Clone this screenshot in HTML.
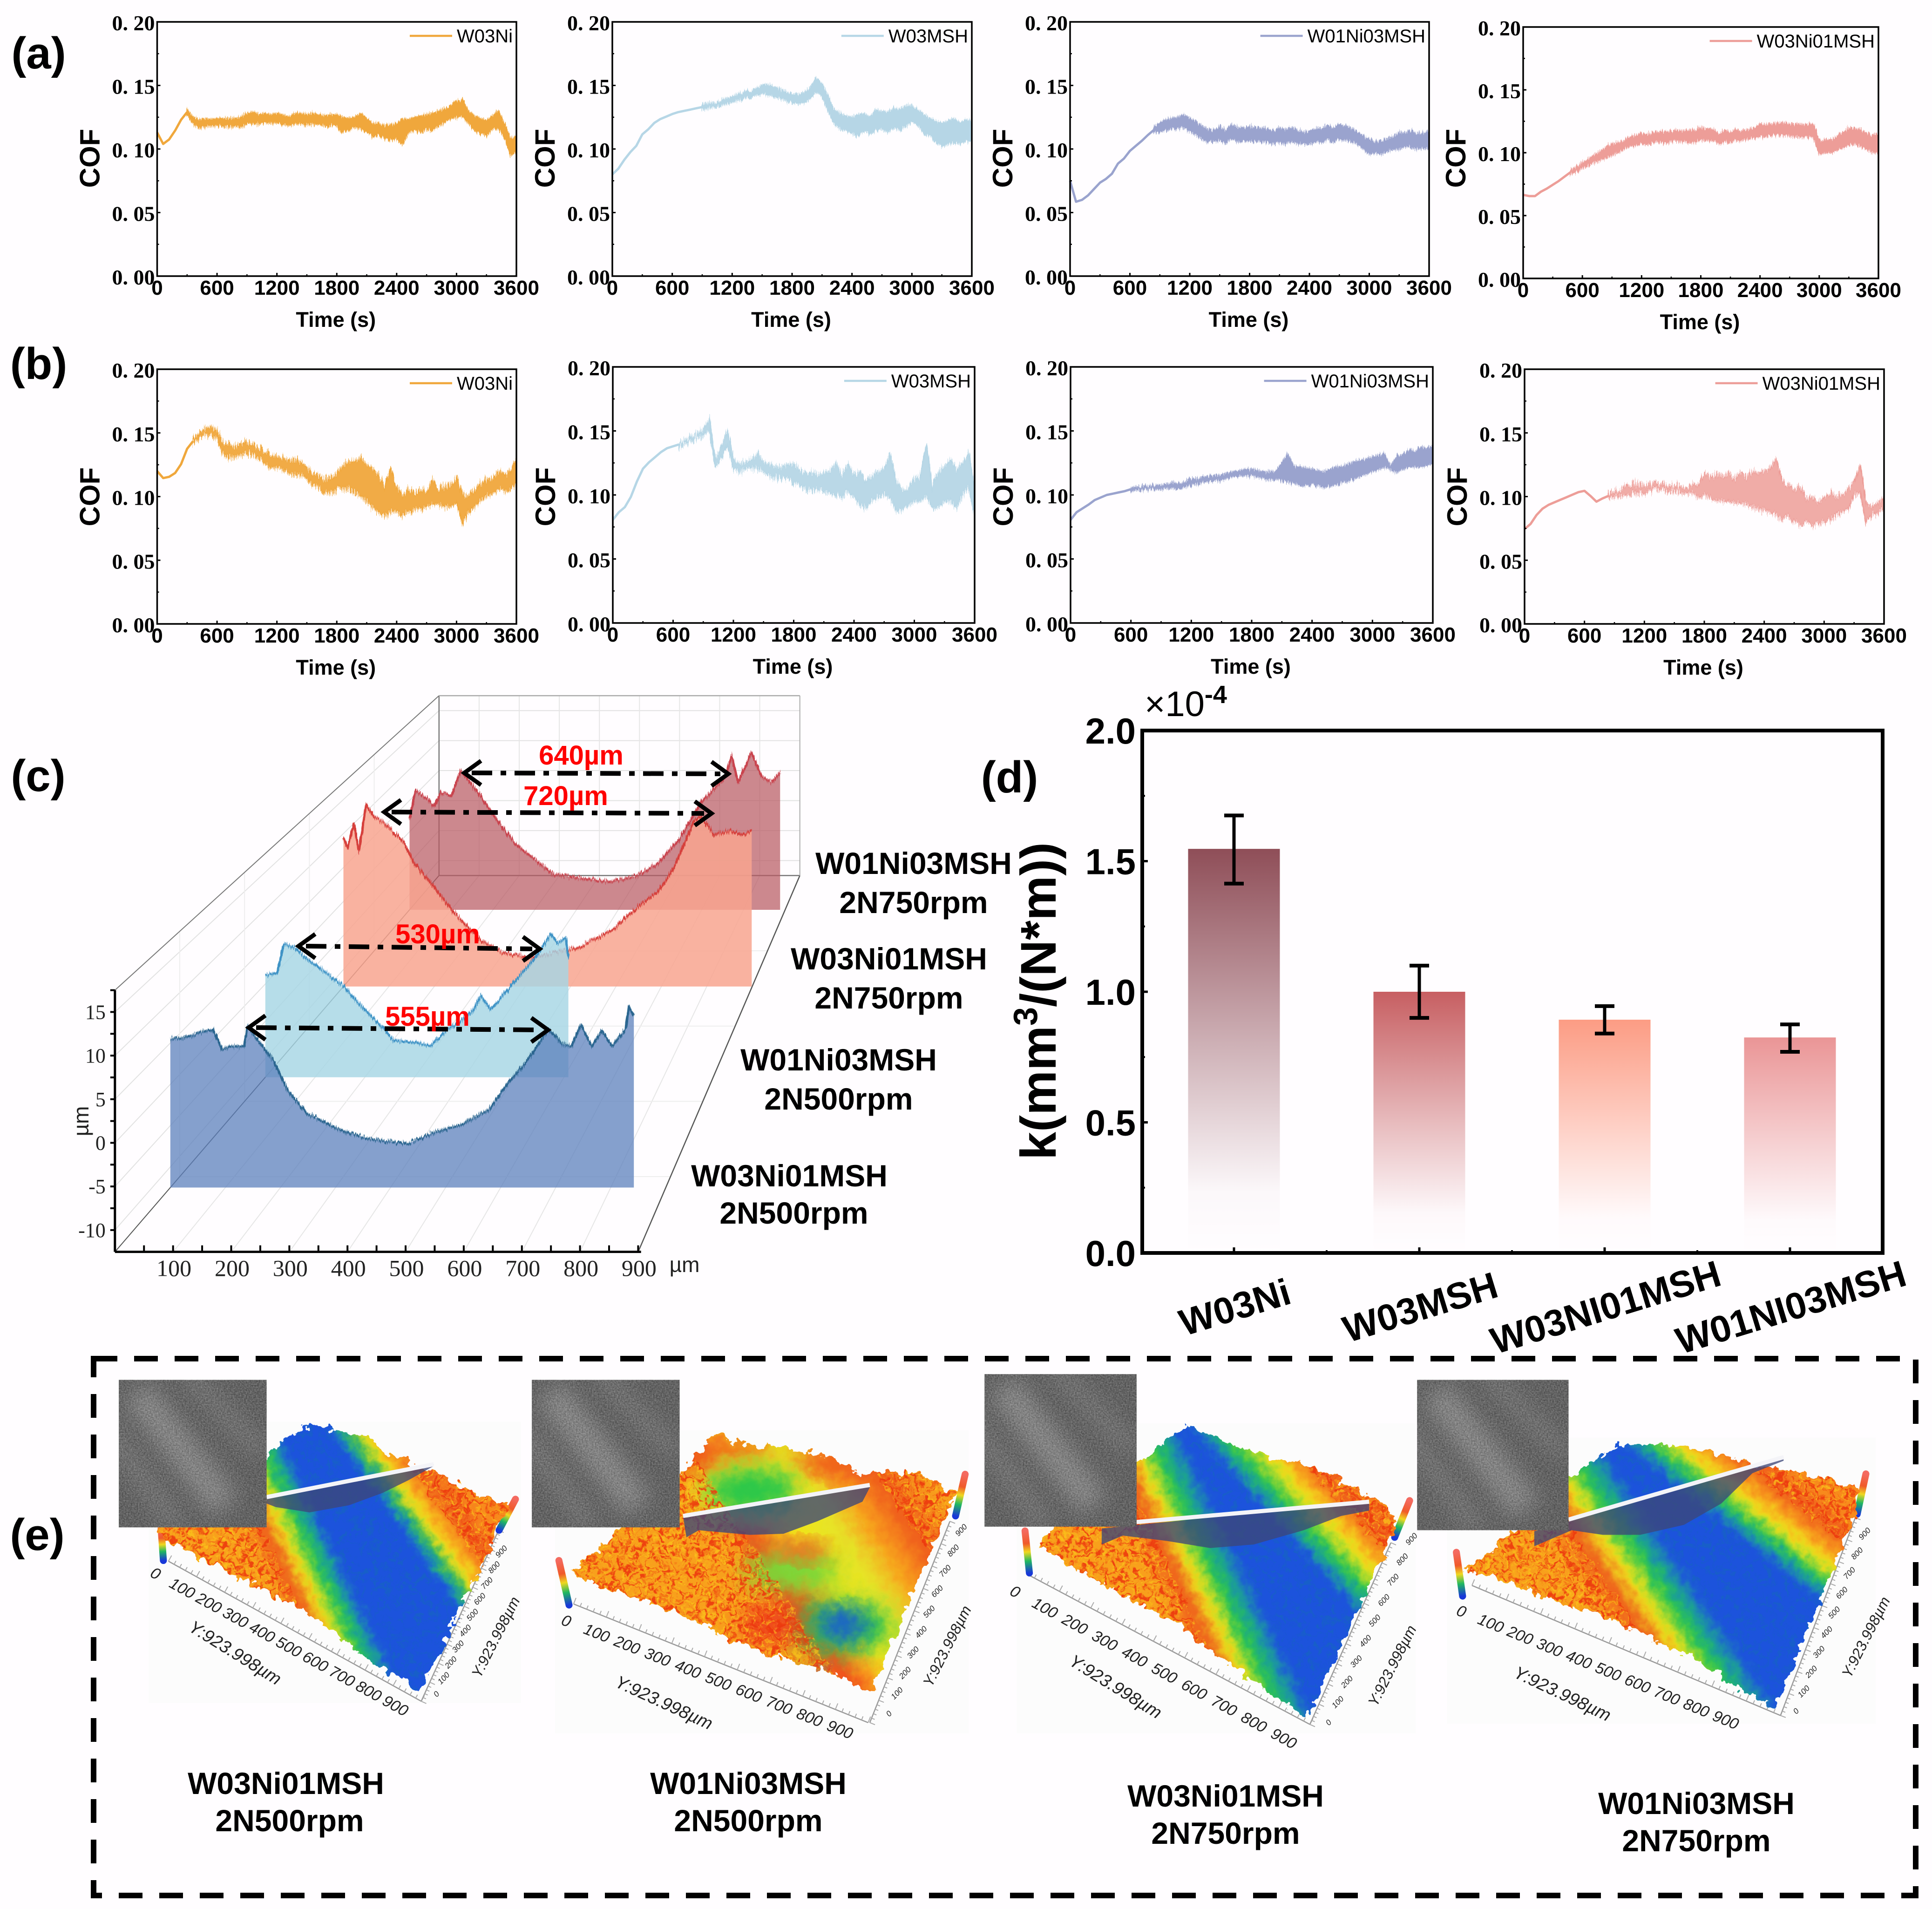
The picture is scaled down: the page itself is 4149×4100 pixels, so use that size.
<!DOCTYPE html>
<html lang="en">
<head>
<meta charset="utf-8">
<title>Friction, wear profile, wear rate and wear surfaces</title>
<style>
html,body{margin:0;padding:0;background:#fffdff;}
svg{display:block;}
text{font-family:"Liberation Sans",sans-serif;}
.big{font-family:"Liberation Sans",sans-serif;font-weight:700;font-size:66px;text-anchor:middle;fill:#000;}
.letter{font-family:"Liberation Sans",sans-serif;font-weight:700;font-size:96px;text-anchor:middle;fill:#000;}
.width{font-family:"Liberation Sans",sans-serif;font-weight:700;font-size:58px;text-anchor:middle;fill:#f00;}
</style>
</head>
<body>
<svg id="fig" xmlns="http://www.w3.org/2000/svg" width="4149" height="4100" viewBox="0 0 4149 4100">
<defs>
  <filter id="soft" x="-10%" y="-10%" width="120%" height="120%"><feGaussianBlur stdDeviation="7"/></filter>
  <filter id="softer" x="-40%" y="-40%" width="180%" height="180%"><feGaussianBlur stdDeviation="22"/></filter>
  <filter id="jagA" x="-2%" y="-80%" width="104%" height="260%" color-interpolation-filters="sRGB">
    <feTurbulence type="fractalNoise" baseFrequency="0.6 0.012" numOctaves="2" seed="5" result="n"/>
    <feColorMatrix in="n" type="matrix" values="0 0 0 0 0.5  1 0 0 0 0  0 0 0 0 0.5  0 0 0 0 1" result="m"/>
    <feDisplacementMap in="SourceGraphic" in2="m" scale="20" xChannelSelector="R" yChannelSelector="G"/>
  </filter>
  <filter id="jagB" x="-2%" y="-80%" width="104%" height="260%" color-interpolation-filters="sRGB">
    <feTurbulence type="fractalNoise" baseFrequency="0.6 0.012" numOctaves="2" seed="11" result="n"/>
    <feColorMatrix in="n" type="matrix" values="0 0 0 0 0.5  1 0 0 0 0  0 0 0 0 0.5  0 0 0 0 1" result="m"/>
    <feDisplacementMap in="SourceGraphic" in2="m" scale="36" xChannelSelector="R" yChannelSelector="G"/>
  </filter>
  <filter id="rough" x="-8%" y="-8%" width="116%" height="116%" color-interpolation-filters="sRGB">
    <feTurbulence type="fractalNoise" baseFrequency="0.05" numOctaves="3" seed="9" result="n"/>
    <feColorMatrix in="n" type="matrix" values="1 0 0 0 0  0 1 0 0 0  0 0 1 0 0  0 0 0 0 1" result="m"/>
    <feDisplacementMap in="SourceGraphic" in2="m" scale="34" xChannelSelector="R" yChannelSelector="G"/>
  </filter>
  <filter id="speck" x="0" y="0" width="100%" height="100%" color-interpolation-filters="sRGB">
    <feTurbulence type="fractalNoise" baseFrequency="0.085" numOctaves="3" seed="7" result="n"/>
    <feColorMatrix in="n" type="matrix" values="0 0 0 0 0.93  0 0 0 0 0.22  0 0 0 0 0.06  5 0 0 0 -2.4" result="c"/>
    <feComposite in="c" in2="SourceAlpha" operator="in"/>
  </filter>
  <filter id="speckYellow" x="0" y="0" width="100%" height="100%" color-interpolation-filters="sRGB">
    <feTurbulence type="fractalNoise" baseFrequency="0.11" numOctaves="2" seed="21" result="n"/>
    <feColorMatrix in="n" type="matrix" values="0 0 0 0 0.98  0 0 0 0 0.78  0 0 0 0 0.1  5 0 0 0 -2.5" result="c"/>
    <feComposite in="c" in2="SourceAlpha" operator="in"/>
  </filter>
  <filter id="speckBlue" x="0" y="0" width="100%" height="100%" color-interpolation-filters="sRGB">
    <feTurbulence type="fractalNoise" baseFrequency="0.07" numOctaves="3" seed="31" result="n"/>
    <feColorMatrix in="n" type="matrix" values="0 0 0 0 0.08  0 0 0 0 0.42  0 0 0 0 0.72  4 0 0 0 -2.0" result="c"/>
    <feComposite in="c" in2="SourceAlpha" operator="in"/>
  </filter>
  <filter id="grain" x="0" y="0" width="100%" height="100%" color-interpolation-filters="sRGB">
    <feTurbulence type="fractalNoise" baseFrequency="0.32" numOctaves="3" seed="3"/>
    <feColorMatrix type="matrix" values="1.4 0 0 0 -0.2  1.4 0 0 0 -0.2  1.4 0 0 0 -0.2  0 0 0 0 1"/>
  </filter>
</defs>
<rect x="0" y="0" width="4149" height="4100" fill="#fffdff"/>

<text class="letter" x="83" y="147">(a)</text>
<text class="letter" x="83" y="814">(b)</text>
<text class="letter" x="82" y="1699">(c)</text>
<text class="letter" x="2168" y="1702">(d)</text>
<text class="letter" x="80" y="3329">(e)</text>

<g id="cofPanels"></g>
<g id="profilePanel"></g>

<g>
  <text class="width" x="1248" y="1642">640µm</text>
  <text class="width" x="1215" y="1729">720µm</text>
  <text class="width" x="940" y="2026">530µm</text>
  <text class="width" x="918" y="2203">555µm</text>
</g>
<g>
  <text class="big" x="1962" y="1877">W01Ni03MSH</text>
  <text class="big" x="1962" y="1961">2N750rpm</text>
  <text class="big" x="1909" y="2082">W03Ni01MSH</text>
  <text class="big" x="1909" y="2166">2N750rpm</text>
  <text class="big" x="1801" y="2299">W01Ni03MSH</text>
  <text class="big" x="1801" y="2383">2N500rpm</text>
  <text class="big" x="1695" y="2548">W03Ni01MSH</text>
  <text class="big" x="1705" y="2628">2N500rpm</text>
</g>

<g id="barPanel"></g>

<rect x="201" y="2918" width="3913" height="1153" fill="none" stroke="#000" stroke-width="12" stroke-dasharray="51 36"/>
<g id="surfaces"></g>
<g>
  <text class="big" x="614" y="3853">W03Ni01MSH</text>
  <text class="big" x="622" y="3933">2N500rpm</text>
  <text class="big" x="1607" y="3853">W01Ni03MSH</text>
  <text class="big" x="1607" y="3933">2N500rpm</text>
  <text class="big" x="2632" y="3880">W03Ni01MSH</text>
  <text class="big" x="2632" y="3960">2N750rpm</text>
  <text class="big" x="3643" y="3896">W01Ni03MSH</text>
  <text class="big" x="3643" y="3976">2N750rpm</text>
</g>
</svg>

<script>
/* ---------- COF data: friction coefficient x 1000, lower / upper edge of the noisy trace ---------- */
const sampleTimes = [0,60,120,180,240,300,360,420,480,540,600,660,720,780,840,900,960,1020,1080,1140,1200,1260,1320,1380,1440,1500,1560,1620,1680,1740,1800,1860,1920,1980,2040,2100,2160,2220,2280,2340,2400,2460,2520,2580,2640,2700,2760,2820,2880,2940,3000,3060,3120,3180,3240,3300,3360,3420,3480,3540,3600];
const timeTicks = [0,600,1200,1800,2400,3000,3600];
const cofTicks = [0,0.05,0.1,0.15,0.2];
const cofTickLabels = ['0. 00','0. 05','0. 10','0. 15','0. 20'];

const a1Low  = [113,103,107,114,122,127,120,117,118,118,118,118,118,118,117,120,120,120,121,120,121,119,118,120,120,119,120,119,118,119,118,113,115,117,116,114,110,111,108,107,108,104,113,114,113,116,115,118,121,124,125,126,120,115,112,110,116,116,110,95,98];
const a1High = [113,105,108,115,124,131,125,123,124,123,124,124,124,124,125,128,129,127,128,127,128,127,125,128,128,127,128,127,126,127,127,125,124,125,128,124,120,120,118,119,120,124,123,125,126,127,128,130,131,134,137,139,130,126,124,122,126,130,120,108,110];
const a2Low  = [80,84,91,97,102,111,115,120,123,125,127,128,129,130,131,131,132,133,134,135,137,138,140,141,142,143,143,141,140,138,136,135,137,140,146,141,130,120,116,114,113,110,114,112,115,115,113,117,115,118,122,118,113,110,106,102,104,105,104,106,107];
const a2High = [80,85,92,98,103,112,116,121,124,126,128,130,131,132,133,135,136,136,138,139,141,143,145,146,147,150,151,149,147,145,143,142,145,148,156,151,141,131,128,126,125,127,128,125,131,130,129,132,131,134,134,131,127,124,122,120,122,124,121,123,122];
const a3Low  = [75,58,59,63,68,73,76,80,88,92,98,102,106,110,113,114,115,116,116,117,114,112,108,105,106,107,105,108,106,106,107,106,105,106,104,105,104,106,105,104,104,105,106,107,106,108,107,106,104,100,96,97,96,98,100,100,102,101,100,101,100];
const a3High = [75,59,61,64,69,74,77,81,89,93,99,103,107,112,117,121,123,124,125,127,124,122,118,115,114,118,115,119,117,116,118,117,116,116,114,116,115,117,115,113,114,115,117,118,117,119,118,116,114,110,108,105,106,108,110,113,112,114,112,113,114];
const a4Low  = [66,65,65,68,71,74,77,80,83,85,88,90,92,94,96,98,100,103,105,106,107,107,108,108,108,109,109,109,108,109,110,110,109,108,108,109,110,110,111,112,113,113,114,114,114,114,113,112,112,113,99,100,100,102,104,107,106,105,103,100,100];
const a4High = [67,66,66,70,72,75,78,82,86,89,92,95,98,101,104,107,108,110,112,114,115,115,116,116,117,117,117,117,118,118,120,119,118,116,117,117,118,117,118,120,123,122,123,123,124,123,123,122,122,123,110,110,110,113,116,120,119,118,116,113,115];
const b1Low  = [120,114,115,118,125,137,142,146,148,148,147,133,130,132,132,134,132,130,126,122,123,121,118,118,117,115,108,106,103,104,105,107,106,103,100,96,92,88,84,88,88,85,88,90,90,92,94,94,92,92,95,80,88,92,97,100,103,105,105,105,108];
const b1High = [120,115,116,119,126,138,145,150,153,155,152,142,140,140,141,143,140,138,136,133,132,131,128,129,127,123,118,116,114,115,118,124,128,128,130,125,122,116,108,122,108,100,106,102,105,105,113,106,108,110,115,100,100,105,110,113,115,120,118,120,130];
const b2Low  = [80,86,90,98,110,120,125,129,133,136,137,138,140,142,144,146,150,122,128,140,120,118,120,121,121,118,114,113,113,113,110,108,104,103,104,104,102,100,98,104,98,92,90,96,98,100,98,88,88,92,95,95,100,90,90,95,95,90,100,105,85];
const b2High = [81,87,91,99,111,121,126,130,134,137,139,141,143,146,148,151,160,128,136,150,128,124,126,128,132,126,124,122,122,124,124,120,117,118,115,118,118,125,115,124,116,118,110,114,118,120,132,110,105,104,112,115,140,105,118,122,128,120,125,133,105];
const b3Low  = [80,86,89,92,95,97,99,100,101,102,103,104,104,105,105,105,105,105,105,106,108,109,110,111,111,112,113,114,115,115,115,114,113,112,112,112,110,109,107,108,108,107,106,107,108,110,111,113,115,116,118,120,122,120,118,120,122,122,122,123,125];
const b3High = [81,87,90,93,97,99,101,102,103,104,106,106,107,107,108,108,108,109,109,110,113,113,114,115,115,116,117,118,119,120,120,119,118,118,118,125,132,122,122,121,120,119,118,120,122,122,124,126,127,128,130,131,132,122,130,131,135,134,137,136,138];
const b4Low  = [74,78,85,90,93,95,97,99,101,103,104,100,95,98,99,100,101,102,102,103,103,104,105,105,104,104,103,103,102,100,100,99,97,97,96,95,95,94,92,90,90,88,85,82,85,80,78,80,78,78,80,82,85,88,90,100,103,80,85,88,90];
const b4High = [75,79,86,91,94,96,98,100,102,104,105,101,97,99,102,104,106,109,110,110,110,109,110,109,108,108,108,107,109,110,118,115,118,116,118,114,118,116,120,118,120,122,130,112,110,105,108,98,100,95,100,103,100,102,105,110,125,95,92,95,100];

/* ---------- Wear profile data: position (µm) and height (µm) per specimen ---------- */
const profile500NiX = [0,24,55,77,94,109,134,140,164,188,213,248,304,359,431,480,529,578,614,650,687,711,729,745,766,784,803,827,833,842];
const profile500NiZ = [5.5,5.6,6.3,6.7,4.2,4.6,4.6,7.0,4.9,2.8,-0.7,-3.5,-5.4,-6.6,-7.2,-5.8,-4.9,-3.1,0.2,3.0,6.7,4.9,4.6,7.2,4.6,6.5,4.6,6.7,9.4,8.2];
const profile500MshX = [0,24,37,58,85,112,158,192,231,259,299,332,359,393,419,433,453,473,500,540,574,587,604,609];
const profile500MshZ = [1.2,1.5,5.4,4.9,3.3,2.0,-0.3,-2.9,-5.5,-7.6,-7.8,-8.3,-6.5,-4.9,-3.4,-1.6,-3.4,-1.9,0.3,3.3,6.7,5.4,6.2,3.6];
const profile750NiX = [0,9,23,34,50,67,89,134,155,184,244,303,347,406,464,523,597,640,692,729,772,787,817,852,875,899];
const profile750NiZ = [9.3,7.9,11.4,7.4,14.2,12.5,11.6,8.6,5.7,3.4,-1.7,-5.7,-7.4,-8.3,-7.6,-6.6,-4,-1.2,1.4,5.1,11.9,12.5,9.7,10.5,9.7,10.4];
const profile750MshX = [0,14,43,60,75,100,123,164,204,252,299,348,412,480,541,596,645,700,757,772,787,819,844,868,888];
const profile750MshZ = [2.0,6.6,5.2,4.0,6.3,5.8,9.8,6.3,2.4,-1.9,-4.4,-6.9,-7.5,-8,-7.2,-5,-1.3,4.8,8.8,12.2,7.9,12.6,8.8,7.9,9.5];
const profileXTicks = [100,200,300,400,500,600,700,800,900];
const profileZTicks = [-10,-5,0,5,10,15];

/* ---------- Wear rate data ---------- */
const barCategories = ['W03Ni','W03MSH','W03NI01MSH','W01NI03MSH'];
const barValues = [1.547,1.0,0.893,0.825];
const barErrorLow = [1.414,0.9,0.84,0.77];
const barErrorHigh = [1.675,1.10,0.945,0.875];
const barTicks = [0,0.5,1,1.5,2];
const barTickLabels = ['0.0','0.5','1.0','1.5','2.0'];

/* ---------- helpers ---------- */
const NS = 'http://www.w3.org/2000/svg';
function el(parent, tag, attrs) {
  const e = document.createElementNS(NS, tag);
  for (const k in attrs) e.setAttribute(k, attrs[k]);
  parent.appendChild(e);
  return e;
}
function label(parent, str, attrs) {
  const e = el(parent, 'text', attrs);
  e.textContent = str;
  return e;
}
const ptsStr = a => a.map(p => p[0].toFixed(1) + ',' + p[1].toFixed(1)).join(' ');

/* ---------- COF panels ---------- */
function drawCofPanel(slug, legendName, color, left, right, top, bottom, cofY, low, high, jag, bandOpacity) {
  const root = document.getElementById('cofPanels');
  const g = el(root, 'g', {});
  
  
  const xScale = t => left + (t / 3600) * (right - left);
  const yScale = v => bottom - (v / 0.2) * (bottom - top);
  let start = low.findIndex((v, i) => high[i] - v >= 3);
  if (start < 0) start = low.length - 1;
  const lowPts = low.map((v, i) => [xScale(sampleTimes[i]), yScale(v / 1000)]);
  const highPts = high.map((v, i) => [xScale(sampleTimes[i]), yScale(v / 1000)]);
  const midPts = low.map((v, i) => [xScale(sampleTimes[i]), yScale((v + high[i]) / 2000)]);

  const lead = el(g, 'polyline', {points: ptsStr(midPts.slice(0, start + 1)), fill: 'none', stroke: color, 'stroke-width': 5, 'stroke-linejoin': 'round'});
  
  
  const band = el(g, 'polygon', {points: ptsStr(highPts.slice(start).concat(lowPts.slice(start).reverse())), fill: color, 'fill-opacity': bandOpacity, stroke: color, 'stroke-width': 3, filter: 'url(#' + jag + ')'});
  
  

  const frame = el(g, 'rect', {x: left, y: top, width: right - left, height: bottom - top, fill: 'none', stroke: '#000', 'stroke-width': 3.5});
  
  

  timeTicks.forEach((t, i) => {
    const tick = el(g, 'line', {x1: xScale(t), x2: xScale(t), y1: bottom, y2: bottom - 7, stroke: '#000', 'stroke-width': 3});
    
    
    const tl = label(g, String(t), {x: xScale(t), y: bottom + 40, 'text-anchor': 'middle', 'font-size': 44, 'font-weight': 700});
    
    
    if (i < timeTicks.length - 1) {
      const mt = (t + timeTicks[i + 1]) / 2;
      const minor = el(g, 'line', {x1: xScale(mt), x2: xScale(mt), y1: bottom, y2: bottom - 4, stroke: '#000', 'stroke-width': 2.5});
      
      
    }
  });
  cofTicks.forEach((v, i) => {
    const tick = el(g, 'line', {x1: left, x2: left + 7, y1: yScale(v), y2: yScale(v), stroke: '#000', 'stroke-width': 3});
    
    
    const tl = label(g, cofTickLabels[i], {x: left - 5, y: yScale(v) + 18, 'text-anchor': 'end', 'font-size': 46, 'font-weight': 700, style: 'font-family:"Liberation Serif",serif'});
    
    
    if (i < cofTicks.length - 1) {
      const mv = (v + cofTicks[i + 1]) / 2;
      const minor = el(g, 'line', {x1: left, x2: left + 4, y1: yScale(mv), y2: yScale(mv), stroke: '#000', 'stroke-width': 2.5});
      
      
    }
  });
  const xt = label(g, 'Time (s)', {x: (left + right) / 2 - 2, y: bottom + 109, 'text-anchor': 'middle', 'font-size': 45, 'font-weight': 700});
  
  
  const yt = label(g, 'COF', {x: 0, y: 0, 'text-anchor': 'middle', 'font-size': 60, 'font-weight': 700, transform: 'translate(' + (left - 124) + ',' + cofY + ') rotate(-90)'});
  
  

  const legendY = top + 30;
  const lt = label(g, legendName, {x: right - 8, y: legendY + 14, 'text-anchor': 'end', 'font-size': 40});
  
  
  const lw = lt.getComputedTextLength();
  const ll = el(g, 'line', {x1: right - 8 - lw - 101, x2: right - 8 - lw - 10, y1: legendY, y2: legendY, stroke: color, 'stroke-width': 4.5});
  
  
}
const cNi = '#f0a73c', cMsh = '#b6d6e6', cNi1 = '#9aa3ce', cNi3 = '#ed9d98';
drawCofPanel('a-w03ni', 'W03Ni', cNi, 337.5, 1109, 47, 593, 340, a1Low, a1High, 'jagA', 1);
drawCofPanel('a-w03msh', 'W03MSH', cMsh, 1315, 2087, 47, 593, 340, a2Low, a2High, 'jagA', 1);
drawCofPanel('a-w01ni03msh', 'W01Ni03MSH', cNi1, 2298, 3069, 47, 593, 340, a3Low, a3High, 'jagA', 1);
drawCofPanel('a-w03ni01msh', 'W03Ni01MSH', cNi3, 3271, 4034, 58, 598, 340, a4Low, a4High, 'jagA', 1);
drawCofPanel('b-w03ni', 'W03Ni', cNi, 337.5, 1109, 793, 1340, 1067, b1Low, b1High, 'jagB', 0.95);
drawCofPanel('b-w03msh', 'W03MSH', cMsh, 1316, 2093, 788, 1338, 1067, b2Low, b2High, 'jagB', 0.95);
drawCofPanel('b-w01ni03msh', 'W01Ni03MSH', cNi1, 2299, 3077, 788, 1338, 1067, b3Low, b3High, 'jagA', 1);
drawCofPanel('b-w03ni01msh', 'W03Ni01MSH', cNi3, 3274, 4046, 793, 1340, 1067, b4Low, b4High, 'jagB', 0.85);

/* ---------- (c) 3D wear profiles ---------- */
(function () {
  const g = document.getElementById('profilePanel');
  const zMin = -12.5;
  function project(x, z, f) {
    const zx = 172 + 485 * f + x * (783 - 243 * f) / 900;
    const zy = 1458 - 975 * f - (z - zMin) * (678 - 212 * f) / 30;
    return [1.435 * zx, 1480 + 0.829 * zy];
  }
  function seg(a, b, color, w, name) {
    const s = el(g, 'line', {x1: a[0], y1: a[1], x2: b[0], y2: b[1], stroke: color, 'stroke-width': w});
    
    
    return s;
  }
  for (let z = -10; z <= 15; z += 5) {
    seg(project(0, z, 0), project(0, z, 1), '#e2e2e2', 2, 'wall-grid-line');
    seg(project(0, z, 1), project(900, z, 1), '#e2e2e2', 2, 'back-grid-line');
  }
  for (let x = 100; x < 900; x += 100) {
    seg(project(x, zMin, 0), project(x, zMin, 1), '#e6e6e6', 2, 'floor-grid-line');
    seg(project(x, zMin, 1), project(x, 17.5, 1), '#e6e6e6', 2, 'back-grid-line');
  }
  for (let i = 1; i < 5; i++) {
    const f = i / 5;
    seg(project(0, zMin, f), project(900, zMin, f), '#eeeeee', 2, 'floor-grid-line');
    seg(project(0, zMin, f), project(0, 17.5, f), '#eeeeee', 2, 'wall-grid-line');
  }
  seg(project(0, 17.5, 0), project(0, 17.5, 1), '#777', 2, 'box-edge');
  seg(project(0, zMin, 0), project(0, zMin, 1), '#555', 2, 'box-edge');
  seg(project(900, zMin, 0), project(900, zMin, 1), '#555', 2.5, 'box-edge');
  seg(project(0, zMin, 1), project(900, zMin, 1), '#777', 2.5, 'box-edge');
  seg(project(0, zMin, 1), project(0, 17.5, 1), '#777', 2.5, 'box-edge');
  seg(project(900, zMin, 1), project(900, 17.5, 1), '#aaa', 2, 'box-edge');
  seg(project(0, 17.5, 1), project(900, 17.5, 1), '#aaa', 2.5, 'box-edge');

  function drawProfile(name, xs, zs, f, fill, opacity, stroke) {
    const top = xs.map((x, i) => project(x, zs[i], f));
    const poly = top.concat([project(xs[xs.length - 1], zMin, f), project(xs[0], zMin, f)]);
    const area = el(g, 'polygon', {points: ptsStr(poly), fill: fill, 'fill-opacity': opacity});
    
    
    const line = el(g, 'polyline', {points: ptsStr(top), fill: 'none', stroke: stroke, 'stroke-width': 5, 'stroke-linejoin': 'round', filter: 'url(#jagA)'});
    
    
  }
  drawProfile('profile-w01ni03msh-750', profile750MshX, profile750MshZ, 0.909, '#b85a62', 0.72, '#c9444e');
  drawProfile('profile-w03ni01msh-750', profile750NiX, profile750NiZ, 0.705, '#f8a48f', 0.85, '#d6403c');
  drawProfile('profile-w01ni03msh-500', profile500MshX, profile500MshZ, 0.464, '#a6d6e4', 0.82, '#3f93c6');
  drawProfile('profile-w03ni01msh-500', profile500NiX, profile500NiZ, 0.171, '#5b7fbc', 0.74, '#2b6690');

  seg(project(0, zMin, 0), project(0, 17.5, 0), '#000', 5, 'z-axis-line');
  seg(project(0, zMin, 0), project(905, zMin, 0), '#000', 5, 'x-axis-line');
  for (let x = 50; x <= 900; x += 50) {
    const p = project(x, zMin, 0);
    seg(p, [p[0], p[1] - 14], '#000', 4, 'x-tick');
  }
  for (let z = -10; z <= 17.5; z += 2.5) {
    const p = project(0, z, 0);
    seg(p, [p[0] - 10, p[1]], '#000', 4, 'z-tick');
  }
  profileXTicks.forEach(v => {
    const p = project(v, zMin, 0);
    const t = label(g, String(v), {x: p[0] + 2, y: p[1] + 52, 'text-anchor': 'middle', 'font-size': 50, fill: '#222', style: 'font-family:"Liberation Serif",serif'});
    
    
  });
  profileZTicks.forEach(v => {
    const p = project(0, v, 0);
    const t = label(g, String(v), {x: p[0] - 20, y: p[1] + 15, 'text-anchor': 'end', 'font-size': 44, fill: '#222', style: 'font-family:"Liberation Serif",serif'});
    
    
  });
  const ux = label(g, 'µm', {x: 1470, y: 2732, 'text-anchor': 'middle', 'font-size': 46, fill: '#222'});
  
  
  const uz = label(g, 'µm', {x: 0, y: 0, 'text-anchor': 'middle', 'font-size': 46, fill: '#222', transform: 'translate(190,2408) rotate(-90)'});
  
  

  /* width arrows */
  function arrow(name, x1, y1, x2, y2) {
    const l = el(g, 'line', {x1: x1 + 16, y1: y1, x2: x2 - 16, y2: y2, stroke: '#000', 'stroke-width': 10, 'stroke-dasharray': '44 18 12 18'});
    
    
    const h1 = el(g, 'polyline', {points: (x1 + 36) + ',' + (y1 - 26) + ' ' + x1 + ',' + y1 + ' ' + (x1 + 36) + ',' + (y1 + 26), fill: 'none', stroke: '#000', 'stroke-width': 9});
    
    
    const h2 = el(g, 'polyline', {points: (x2 - 36) + ',' + (y2 - 26) + ' ' + x2 + ',' + y2 + ' ' + (x2 - 36) + ',' + (y2 + 26), fill: 'none', stroke: '#000', 'stroke-width': 9});
    
    
  }
  arrow('width-arrow-640', 997, 1660, 1564, 1662);
  arrow('width-arrow-720', 825, 1744, 1528, 1747);
  arrow('width-arrow-530', 641, 2032, 1159, 2038);
  arrow('width-arrow-555', 534, 2207, 1177, 2212);
})();

/* ---------- (d) wear rate bars ---------- */
(function () {
  const g = document.getElementById('barPanel');
  const defs = document.querySelector('#fig defs');
  const L = 2453, R = 4043, T = 1569, B = 2691;
  const yScale = v => B - (v / 2) * (B - T);
  const barX = i => 2650 + i * 398;
  const barW = 197;
  const colors = ['#8f4e58', '#c75f62', '#fc9c84', '#ea9596'];
  barCategories.forEach((name, i) => {
    const gr = el(defs, 'linearGradient', {id: 'barGrad' + i, x1: 0, y1: 0, x2: 0, y2: 1});
    el(gr, 'stop', {offset: '0', 'stop-color': colors[i], 'stop-opacity': 1});
    el(gr, 'stop', {offset: '0.5', 'stop-color': colors[i], 'stop-opacity': 0.42});
    el(gr, 'stop', {offset: '0.85', 'stop-color': colors[i], 'stop-opacity': 0.03});
    el(gr, 'stop', {offset: '1', 'stop-color': colors[i], 'stop-opacity': 0});
    const b = el(g, 'rect', {x: barX(i) - barW / 2, y: yScale(barValues[i]), width: barW, height: B - yScale(barValues[i]), fill: 'url(#barGrad' + i + ')'});
    
    
    const e1 = el(g, 'line', {x1: barX(i), x2: barX(i), y1: yScale(barErrorHigh[i]), y2: yScale(barErrorLow[i]), stroke: '#000', 'stroke-width': 7});
    
    
    const e2 = el(g, 'line', {x1: barX(i) - 21, x2: barX(i) + 21, y1: yScale(barErrorHigh[i]), y2: yScale(barErrorHigh[i]), stroke: '#000', 'stroke-width': 8});
    
    
    const e3 = el(g, 'line', {x1: barX(i) - 21, x2: barX(i) + 21, y1: yScale(barErrorLow[i]), y2: yScale(barErrorLow[i]), stroke: '#000', 'stroke-width': 8});
    
    
    const t = el(g, 'line', {x1: barX(i), x2: barX(i), y1: B, y2: B - 12, stroke: '#000', 'stroke-width': 5});
    
    
    if (i < barCategories.length - 1) {
      const t2 = el(g, 'line', {x1: barX(i) + 199, x2: barX(i) + 199, y1: B, y2: B - 6, stroke: '#000', 'stroke-width': 4});
      
      
    }
    const tl = label(g, name, {x: 0, y: 0, 'text-anchor': 'middle', 'font-size': 80, 'font-weight': 700, transform: 'translate(' + (barX(i) + 10) + ',' + 2834 + ') rotate(-17)'});
    
    
  });
  const frame = el(g, 'rect', {x: L, y: T, width: R - L, height: B - T, fill: 'none', stroke: '#000', 'stroke-width': 8});
  
  
  barTicks.forEach((v, i) => {
    const t = el(g, 'line', {x1: L, x2: L + 12, y1: yScale(v), y2: yScale(v), stroke: '#000', 'stroke-width': 5});
    
    
    const tl = label(g, barTickLabels[i], {x: L - 14, y: yScale(v) + 28, 'text-anchor': 'end', 'font-size': 78, 'font-weight': 700});
    
    
    if (i < barTicks.length - 1) {
      const mv = (v + barTicks[i + 1]) / 2;
      const t2 = el(g, 'line', {x1: L, x2: L + 6, y1: yScale(mv), y2: yScale(mv), stroke: '#000', 'stroke-width': 4});
      
      
    }
  });
  const yt = label(g, '', {x: 0, y: 0, 'text-anchor': 'middle', 'font-size': 108, 'font-weight': 700, transform: 'translate(2267,2150) rotate(-90)'});
  
  
  const s1 = el(yt, 'tspan', {});
  s1.textContent = 'k(mm';
  const s2 = el(yt, 'tspan', {dy: -40, 'font-size': 72});
  s2.textContent = '3';
  const s3 = el(yt, 'tspan', {dy: 40});
  s3.textContent = '/(N*m))';
  const ex = label(g, '', {x: 2458, y: 1538, 'font-size': 76});
  
  
  const e1 = el(ex, 'tspan', {});
  e1.textContent = '×10';
  const e2 = el(ex, 'tspan', {dy: -28, 'font-size': 54, 'font-weight': 700});
  e2.textContent = '-4';
})();

/* ---------- (e) wear surface renderings ---------- */
const zoomA = (x, y) => [180 + 1.2117 * x, 2900 + 0.7653 * y];
const zoomB = (x, y) => [2050 + 1.3386 * x, 2900 + 0.7653 * y];
const axisTickLabels = ['0','100','200','300','400','500','600','700','800','900'];
let surfaceCount = 0;
function hex(c) { return [1, 3, 5].map(i => parseInt(c.substr(i, 2), 16)); }
function mix(a, b, t) {
  const x = hex(a), y = hex(b);
  return 'rgb(' + x.map((v, i) => Math.round(v + (y[i] - v) * t)).join(',') + ')';
}
function drawSurface(s) {
  surfaceCount++;
  const id = surfaceCount;
  const root = document.getElementById('surfaces');
  const defs = document.querySelector('#fig defs');
  const g = el(root, 'g', {});
  
  
  const m = s.map;
  const mp = a => { const o = []; for (let i = 0; i < a.length; i += 2) o.push(m(a[i], a[i + 1])); return o; };

  const b0 = m(s.bg[0], s.bg[1]), b1 = m(s.bg[2], s.bg[3]);
  const bg = el(g, 'rect', {x: b0[0], y: b0[1], width: b1[0] - b0[0], height: b1[1] - b0[1], fill: '#fcfcfc'});
  
  

  /* axes */
  function axis(name, line, labels, fontSize, tickSize, sign, fixedAngle) {
    const a = m(line[0], line[1]), b = m(line[2], line[3]);
    const ln = el(g, 'line', {x1: a[0], y1: a[1], x2: b[0], y2: b[1], stroke: '#999', 'stroke-width': 2.5});
    
    
    const ux = (b[0] - a[0]), uy = (b[1] - a[1]), len = Math.hypot(ux, uy);
    for (let i = 0; i <= 45; i++) {
      const t = i / 45, px = a[0] + ux * t, py = a[1] + uy * t, sz = i % 5 ? tickSize * 0.6 : tickSize;
      const tk = el(g, 'line', {x1: px, y1: py, x2: px - uy / len * sz * sign, y2: py + ux / len * sz * sign, stroke: '#aaa', 'stroke-width': 2});
      
      
    }
    const c = m(labels[0], labels[1]), d = m(labels[2], labels[3]);
    const lineAng = Math.atan2(d[1] - c[1], d[0] - c[0]) * 180 / Math.PI;
    const ang = fixedAngle === undefined ? lineAng : fixedAngle;
    axisTickLabels.forEach((txt, i) => {
      const t = i / 9, x = c[0] + (d[0] - c[0]) * t, y = c[1] + (d[1] - c[1]) * t;
      const tl = label(g, txt, {x: 0, y: 0, 'text-anchor': 'middle', 'dominant-baseline': 'central', 'font-size': fontSize, 'font-style': 'italic', fill: '#222', transform: 'translate(' + x.toFixed(1) + ',' + y.toFixed(1) + ') rotate(' + ang.toFixed(1) + ')'});
      
      
    });
    return lineAng;
  }
  const ang1 = axis('surface-axis-x', s.leftAxis, s.leftLabels, 34, 14, -1);
  axis('surface-axis-y', s.rightAxis, s.rightLabels, 17, 12, 1, -46);
  [[s.yLabel1, ang1 + 3, 38, 'surface-axis-x-title'], [s.yLabel2, -63, 32, 'surface-axis-y-title']].forEach(item => {
    const p = m(item[0][0], item[0][1]);
    const t = label(g, 'Y:923.998µm', {x: 0, y: 0, 'text-anchor': 'middle', 'dominant-baseline': 'central', 'font-size': item[2], 'font-style': 'italic', fill: '#222', transform: 'translate(' + p[0].toFixed(1) + ',' + p[1].toFixed(1) + ') rotate(' + item[1].toFixed(1) + ')'});
    
    
  });

  /* colour bars */
  [s.barL, s.barR].forEach((b, i) => {
    const p = m(b[0], b[1]), q = m(b[2], b[3]);
    const gid = 'cbar' + id + '-' + i;
    const gr = el(defs, 'linearGradient', {id: gid, gradientUnits: 'userSpaceOnUse', x1: p[0], y1: p[1], x2: q[0], y2: q[1]});
    [['0', '#f46a60'], ['0.3', '#f05a2a'], ['0.5', '#f0d820'], ['0.72', '#20b860'], ['1', '#1838d8']].forEach(st => {
      el(gr, 'stop', {offset: st[0], 'stop-color': st[1]});
    });
    const cb = el(g, 'line', {x1: p[0], y1: p[1], x2: q[0], y2: q[1], stroke: 'url(#' + gid + ')', 'stroke-width': 15, 'stroke-linecap': 'round'});
    
    
  });

  /* surface */
  const clipId = 'surfClip' + id;
  const cp = el(defs, 'clipPath', {id: clipId});
  el(cp, 'polygon', {points: ptsStr(mp(s.outline))});
  const roughG = el(g, 'g', {filter: 'url(#rough)'});
  
  
  const clipG = el(roughG, 'g', {'clip-path': 'url(#' + clipId + ')'});
  
  
  const blurG = el(clipG, 'g', {filter: 'url(#soft)'});
  const xAt = (st, y) => st[0] + (st[1] - st[0]) * (y - 200) / 800;
  const yA = 50, yB = 1250;
  for (let i = 0; i < s.stops.length - 1; i++) {
    const u = s.stops[i], v = s.stops[i + 1];
    for (let k = 0; k < 5; k++) {
      const a = k / 5, b = (k + 1) / 5;
      const tA = [u[0] + (v[0] - u[0]) * a, u[1] + (v[1] - u[1]) * a];
      const tB = [u[0] + (v[0] - u[0]) * b + 2, u[1] + (v[1] - u[1]) * b + 2];
      const poly = [m(xAt(tA, yA), yA), m(xAt(tB, yA), yA), m(xAt(tB, yB), yB), m(xAt(tA, yB), yB)];
      const q = el(blurG, 'polygon', {points: ptsStr(poly), fill: mix(u[2], v[2], (a + b) / 2)});
      
      
    }
  }
  (s.blobs || []).forEach(bl => {
    const c = m(bl[0], bl[1]), e = m(bl[0] + bl[2], bl[1] + bl[3]);
    const en = el(clipG, 'ellipse', {cx: c[0], cy: c[1], rx: e[0] - c[0], ry: e[1] - c[1], fill: bl[4], filter: 'url(#softer)'});
    
    
  });
  function texture(r, filterId, opacity) {
    const poly = [m(xAt([r[0], r[1]], yA), yA), m(xAt([r[2], r[3]], yA), yA), m(xAt([r[2], r[3]], yB), yB), m(xAt([r[0], r[1]], yB), yB)];
    const sp = el(clipG, 'polygon', {points: ptsStr(poly), fill: '#000', filter: 'url(#' + filterId + ')', opacity: opacity});
    
    
  }
  s.speck.forEach(r => {
    texture(r, 'speckYellow', 0.7);
    texture(r, 'speck', 0.9);
  });
  (s.blueSpeck || []).forEach(r => texture(r, 'speckBlue', 0.55));

  /* section wedge */
  const wedge = el(g, 'polygon', {points: ptsStr(mp(s.wedge)), fill: '#3c4678', 'fill-opacity': 0.78});
  
  
  const c1 = m(s.bar[0], s.bar[1]), c2 = m(s.bar[2], s.bar[3]);
  const cut = el(g, 'line', {x1: c1[0], y1: c1[1], x2: c2[0], y2: c2[1], stroke: '#f4f4f8', 'stroke-width': 9});
  
  

  /* SEM inset */
  const i0 = m(s.inset[0], s.inset[1]), i1 = m(s.inset[2], s.inset[3]);
  const iw = i1[0] - i0[0], ih = i1[1] - i0[1];
  const ig = el(g, 'g', {});
  
  
  const base = el(ig, 'rect', {x: i0[0], y: i0[1], width: iw, height: ih, fill: '#5c5c5c'});
  
  
  const icid = 'insetClip' + id;
  const icp = el(defs, 'clipPath', {id: icid});
  el(icp, 'rect', {x: i0[0], y: i0[1], width: iw, height: ih});
  const iclip = el(ig, 'g', {'clip-path': 'url(#' + icid + ')'});
  [[0.12, 0.08, 0.72, 0.86, 70, 0.5], [-0.1, 0.3, 0.4, 1.0, 40, 0.28], [0.45, -0.05, 0.98, 0.5, 36, 0.28]].forEach(b => {
    const st = el(iclip, 'line', {x1: i0[0] + iw * b[0], y1: i0[1] + ih * b[1], x2: i0[0] + iw * b[2], y2: i0[1] + ih * b[3], stroke: '#b4b4b4', 'stroke-width': b[4], opacity: b[5], filter: 'url(#softer)'});
    
    
  });
  const gn = el(iclip, 'rect', {x: i0[0], y: i0[1], width: iw, height: ih, filter: 'url(#grain)', opacity: 0.22});
  
  
}
const OR = '#f8a01e', RD = '#ef5a1c', YE = '#f0e41a', GN = '#2cc848', TE = '#1a9a9e', BL = '#1a52dc';

drawSurface({map: zoomA, bg: [115, 200, 775, 990],
  outline: [150,530,130,500,325,290,400,205,470,235,510,250,530,280,620,345,680,385,750,440,735,505,595,960,480,840,420,760,330,680,250,620,175,555],
  stops: [[-300,-60,OR],[190,430,OR],[231,471,RD],[263,503,YE],[291,531,GN],[316,556,TE],[336,576,BL],[425,790,BL],[440,805,TE],[457,825,'#3cc044'],[478,843,YE],[505,870,OR],[540,905,RD],[580,945,'#f8881e'],[1000,1400,OR]],
  speck: [[-300,-60,225,465],[520,885,1000,1400]], blueSpeck: [[340,580,420,785]],
  inset: [62,83,324,497], bar: [324,412,620,320],
  wedge: [324,412,620,320,620,325,575,365,530,400,470,435,400,455,340,440,324,430],
  leftAxis: [150,592,598,985], leftLabels: [127,627,552,998], rightAxis: [598,985,735,505], rightLabels: [625,965,740,565],
  yLabel1: [268,850], yLabel2: [730,805], barL: [137,500,141,590], barR: [765,418,736,505]});

drawSurface({map: zoomA, bg: [835, 225, 1568, 1075],
  outline: [862,630,1060,340,1120,235,1160,260,1300,290,1370,340,1480,345,1545,400,1500,560,1395,960,1290,880,1200,850,1100,770,990,700,930,670],
  stops: [[500,800,OR],[1000,1330,OR],[1048,1384,'#ef4a1a'],[1090,1430,OR],[1130,1470,YE],[1210,1540,'#e6e428'],[1270,1610,OR],[1340,1680,RD],[1420,1760,OR],[1900,2200,OR]],
  blobs: [[1150,285,70,36,RD],[1330,320,80,36,RD],[1185,395,110,90,YE],[1185,395,80,65,GN],[1255,620,85,55,'#7ad838'],[1275,560,45,28,'#f25a20'],[1340,775,90,75,GN],[1345,770,45,40,BL],[1295,905,20,14,BL],[1220,770,60,60,'#f0481a']],
  speck: [[500,800,1040,1370],[1340,1680,1900,2200]],
  inset: [794,83,1056,497], bar: [1062,465,1393,378],
  wedge: [1062,465,1393,378,1393,385,1380,425,1300,480,1240,515,1180,518,1090,505,1068,525],
  leftAxis: [868,712,1390,1045], leftLabels: [855,760,1340,1065], rightAxis: [1393,1045,1535,480], rightLabels: [1427,1020,1555,505],
  yLabel1: [1028,990], yLabel2: [1530,830], barL: [842,590,860,715], barR: [1562,348,1545,465]});

drawSurface({map: zoomB, bg: [100, 205, 740, 1075],
  outline: [130,545,300,305,375,213,480,285,560,320,640,380,695,440,712,480,565,1035,440,880,350,760,240,660,135,550],
  stops: [[-300,-60,OR],[198,414,OR],[238,454,RD],[270,486,YE],[298,514,GN],[328,544,TE],[353,569,BL],[368,784,BL],[388,804,TE],[413,829,GN],[453,869,YE],[483,899,OR],[518,934,RD],[563,979,'#f8881e'],[1000,1400,OR]],
  speck: [[-300,-60,235,450],[500,915,1000,1400]], blueSpeck: [[355,570,366,780]],
  inset: [48,67,292,495], bar: [292,482,665,425],
  wedge: [236,500,665,425,665,450,620,465,560,505,480,545,410,555,340,535,270,520,236,545],
  leftAxis: [118,630,570,1050], leftLabels: [97,678,528,1090], rightAxis: [570,1050,700,540], rightLabels: [600,1045,733,530],
  yLabel1: [258,945], yLabel2: [702,885], barL: [113,507,120,625], barR: [730,422,706,525]});

drawSurface({map: zoomB, bg: [790, 245, 1478, 1048],
  outline: [815,620,850,580,985,360,1058,265,1190,270,1280,320,1380,350,1450,380,1445,460,1315,1010,1180,860,1060,760,960,700,870,640],
  stops: [[400,700,OR],[831,1139,OR],[876,1184,RD],[916,1224,YE],[951,1259,GN],[981,1289,TE],[1011,1319,BL],[1025,1601,BL],[1050,1626,TE],[1075,1651,GN],[1110,1686,YE],[1145,1721,OR],[1190,1766,RD],[1245,1821,'#f8881e'],[1800,2400,OR]],
  speck: [[400,700,872,1180],[1180,1756,1800,2400]], blueSpeck: [[1012,1320,1025,1600]],
  inset: [742,83,985,505], bar: [985,475,1330,300],
  wedge: [930,508,1330,300,1330,310,1280,345,1230,430,1170,490,1100,518,1040,518,990,505,930,550],
  leftAxis: [830,660,1325,1025], leftLabels: [813,733,1237,1038], rightAxis: [1325,1025,1445,470], rightLabels: [1350,1013,1460,515],
  yLabel1: [975,965], yLabel2: [1462,805], barL: [805,567,815,690], barR: [1462,347,1448,460]});
</script>
</body>
</html>
